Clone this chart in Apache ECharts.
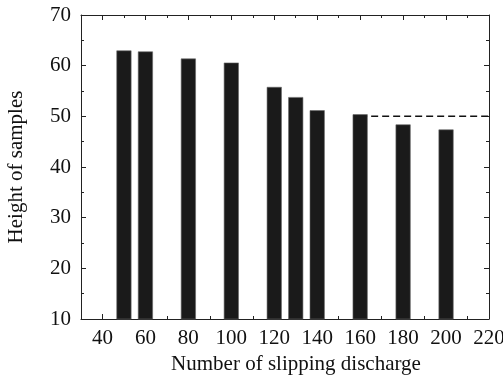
<!DOCTYPE html>
<html>
<head>
<meta charset="utf-8">
<script src="https://cdn.jsdelivr.net/npm/echarts@6/dist/echarts.min.js"></script>
<style>
  html, body { margin: 0; padding: 0; background: #fff; }
  #chart { width: 503px; height: 378px; }
</style>
</head>
<body>
<div id="chart"></div>
<script>
// discharge counts and sample heights
var discharges = [50, 60, 80, 100, 120, 130, 140, 160, 180, 200];
var heights = [63.0, 62.8, 61.4, 60.6, 55.8, 53.8, 51.2, 50.4, 48.4, 47.4];
var refLine = [[160, 50], [220, 50]];
var xTicks = [40, 60, 80, 100, 120, 140, 160, 180, 200, 220];
var xMinorTicks = [50, 70, 90, 110, 130, 150, 170, 190, 210];

var font = 'Liberation Serif';
var ink = '#222';

var barData = [];
for (var i = 0; i < discharges.length; i++) {
    barData.push([discharges[i], heights[i]]);
}

function xAxisDef(pos, ticks, len, showLine, showLabel) {
    return {
        type: 'value', position: pos, min: 30, max: 220,
        axisLine: {show: showLine, onZero: false, lineStyle: {color: ink, width: 1}},
        axisTick: {show: true, inside: true, length: len, customValues: ticks,
                   lineStyle: {color: ink, width: 1}},
        axisLabel: {show: showLabel, customValues: ticks, margin: 9,
                    fontFamily: font, fontSize: 21, color: '#111'},
        splitLine: {show: false}
    };
}

var chart = echarts.init(document.getElementById('chart'));
chart.setOption({
    animation: false,
    backgroundColor: '#fff',
    grid: {left: 81, right: 14, top: 15, bottom: 59, outerBoundsMode: 'none'},
    xAxis: [
        Object.assign(xAxisDef('bottom', xTicks, 5, true, true), {
            name: 'Number of slipping discharge', nameLocation: 'middle', nameGap: 35,
            nameTextStyle: {fontFamily: font, fontSize: 21, color: '#111', padding: [0, 0, 0, 22]}
        }),
        xAxisDef('bottom', xMinorTicks, 3, false, false),
        xAxisDef('top', xTicks, 5, true, false),
        xAxisDef('top', xMinorTicks, 3, false, false)
    ],
    yAxis: [
        {
            type: 'value', position: 'left', min: 10, max: 70, interval: 10,
            name: 'Height of samples', nameLocation: 'middle', nameGap: 54,
            nameTextStyle: {fontFamily: font, fontSize: 21, color: '#111'},
            axisLine: {show: true, lineStyle: {color: ink, width: 1}},
            axisTick: {inside: true, length: 5, lineStyle: {color: ink}},
            minorTick: {show: true, splitNumber: 2, length: 3, lineStyle: {color: ink}},
            axisLabel: {margin: 10, fontFamily: font, fontSize: 21, color: '#111'},
            splitLine: {show: false}
        },
        {
            type: 'value', position: 'right', min: 10, max: 70, interval: 10,
            axisLine: {show: true, lineStyle: {color: ink, width: 1}},
            axisTick: {inside: true, length: 5, lineStyle: {color: ink}},
            minorTick: {show: true, splitNumber: 2, length: 3, lineStyle: {color: ink}},
            axisLabel: {show: false},
            splitLine: {show: false}
        }
    ],
    series: [
        {
            type: 'line', xAxisIndex: 0, yAxisIndex: 0, z: 1,
            data: refLine, symbol: 'none',
            lineStyle: {color: '#111', width: 1.5, type: [7, 4]}
        },
        {
            type: 'bar', xAxisIndex: 0, yAxisIndex: 0, z: 2,
            data: barData, barWidth: 15,
            itemStyle: {color: '#1a1a1a', borderColor: '#666', borderWidth: 0.6}
        }
    ]
});
</script>
</body>
</html>
